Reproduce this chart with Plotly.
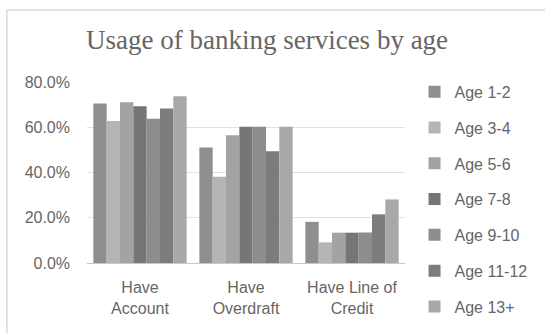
import plotly.graph_objects as go

categories = ["Have<br>Account", "Have<br>Overdraft", "Have Line of<br>Credit"]
series_names = ["Age 1-2", "Age 3-4", "Age 5-6", "Age 7-8", "Age 9-10", "Age 11-12", "Age 13+"]
age_1_2 = [0.705, 0.511, 0.182]
age_3_4 = [0.628, 0.381, 0.091]
age_5_6 = [0.710, 0.565, 0.134]
age_7_8 = [0.693, 0.602, 0.134]
age_9_10 = [0.638, 0.602, 0.135]
age_11_12 = [0.683, 0.494, 0.215]
age_13p = [0.737, 0.602, 0.281]
series_values = [age_1_2, age_3_4, age_5_6, age_7_8, age_9_10, age_11_12, age_13p]
colors = ["#8f8f8f", "#b5b5b5", "#a3a3a3", "#767676", "#8d8d8d", "#7c7c7c", "#a8a8a8"]

fig = go.Figure()
for i, (name, vals) in enumerate(zip(series_names, series_values)):
    fig.add_trace(go.Bar(x=categories, y=vals, name=name, marker_color=colors[i],
                         marker_line_width=0, legendgroup=name))

fig.update_layout(
    width=545, height=333,
    paper_bgcolor="white", plot_bgcolor="white",
    barmode="group", bargap=0.12, bargroupgap=0,
    margin=dict(l=87, r=140, t=82, b=70),
    title=dict(text="Usage of banking services by age", x=0.49, xanchor="center",
               y=0.88, yanchor="middle",
               font=dict(family="Liberation Serif", size=27, color="#666666")),
    font=dict(family="Liberation Sans", color="#666666", size=14),
    legend=dict(x=1.03, xanchor="left", y=1.04, yanchor="top",
                font=dict(size=16, color="#666666"), tracegroupgap=12,
                itemwidth=30, bgcolor="rgba(0,0,0,0)", maxheight=333),
    showlegend=True,
)
fig.update_yaxes(range=[0, 0.8], tickformat=".1%", dtick=0.2, showgrid=True,
                 gridcolor="#e2e2e2", gridwidth=1, zeroline=False, showline=False,
                 ticklabelstandoff=16, tickfont=dict(size=16, color="#666666"))
fig.update_xaxes(showline=True, linecolor="#c8c8c8", linewidth=1, showgrid=False,
                 tickfont=dict(size=16, color="#666666"), ticklabelstandoff=10)

fig.add_shape(type="rect", xref="paper", yref="paper", x0=-0.252, x1=1.5, y0=-0.5, y1=1.398,
              line=dict(color="#d9d9d9", width=1.5), fillcolor="rgba(0,0,0,0)", layer="below")

fig.write_html("out.html", post_script="document.body.style.margin='0';",
               config={"displayModeBar": False})
